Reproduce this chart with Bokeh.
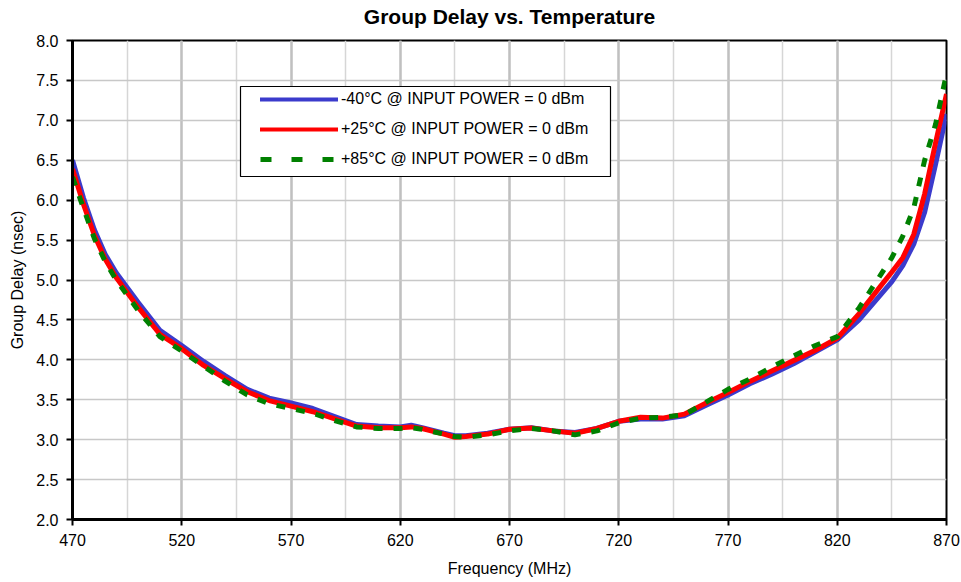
from bokeh.plotting import figure
from bokeh.models import (Range1d, FixedTicker, NumeralTickFormatter, Legend,
                          LegendItem, BoxAnnotation, LinearAxis)
from bokeh.embed import file_html
from bokeh.resources import INLINE

# ---------------- data ----------------
freq_mhz = [470, 475, 480, 485, 490, 500, 510, 520, 530, 540, 550, 560, 570, 580,
            590, 600, 610, 620, 625, 630, 640, 645, 650, 660, 670, 680, 690, 700,
            710, 720, 730, 740, 750, 760, 770, 780, 790, 800, 810, 820, 830, 840,
            845, 850, 855, 860, 865, 870]

delay_m40 = [6.50, 6.03, 5.63, 5.32, 5.09, 4.72, 4.37, 4.18, 3.98, 3.80, 3.63, 3.52,
             3.46, 3.39, 3.29, 3.19, 3.17, 3.16, 3.18, 3.15, 3.08, 3.05, 3.05, 3.08,
             3.13, 3.15, 3.11, 3.09, 3.14, 3.23, 3.26, 3.26, 3.30, 3.43, 3.56, 3.70,
             3.82, 3.95, 4.10, 4.25, 4.50, 4.82, 4.98, 5.18, 5.45, 5.85, 6.45, 7.08]

delay_p25 = [6.39, 5.95, 5.56, 5.26, 5.03, 4.66, 4.32, 4.14, 3.93, 3.76, 3.60, 3.49,
             3.42, 3.35, 3.26, 3.17, 3.15, 3.15, 3.16, 3.14, 3.07, 3.03, 3.04, 3.07,
             3.13, 3.145, 3.11, 3.08, 3.14, 3.23, 3.28, 3.27, 3.32, 3.46, 3.59, 3.73,
             3.86, 3.99, 4.12, 4.27, 4.58, 4.93, 5.10, 5.28, 5.57, 6.08, 6.72, 7.33]

delay_p85 = [6.29, 5.90, 5.52, 5.23, 5.00, 4.62, 4.29, 4.11, 3.92, 3.73, 3.56, 3.45,
             3.39, 3.33, 3.24, 3.16, 3.14, 3.14, 3.15, 3.13, 3.07, 3.04, 3.03, 3.06,
             3.11, 3.14, 3.11, 3.06, 3.11, 3.21, 3.27, 3.28, 3.31, 3.47, 3.63, 3.76,
             3.91, 4.05, 4.18, 4.29, 4.65, 5.07, 5.28, 5.55, 5.90, 6.50, 6.95, 7.58]

series_labels = ["-40°C @ INPUT POWER = 0 dBm",
                 "+25°C @ INPUT POWER = 0 dBm",
                 "+85°C @ INPUT POWER = 0 dBm"]
chart_title = "Group Delay vs. Temperature"

x_ticks = [470, 520, 570, 620, 670, 720, 770, 820, 870]
x_minor = [470, 495, 520, 545, 570, 595, 620, 645, 670, 695, 720, 745, 770, 795,
           820, 845, 870]
y_ticks = [2.0, 2.5, 3.0, 3.5, 4.0, 4.5, 5.0, 5.5, 6.0, 6.5, 7.0, 7.5, 8.0]

FONT = "Liberation Sans"
BLUE = "#3b3bcc"
RED = "#ff0000"
GREEN = "#008000"
NAN = float("nan")

# ---------------- figure ----------------
p = figure(width=961, height=582, output_backend="svg", toolbar_location=None,
           x_range=Range1d(470, 870), y_range=Range1d(2, 8),
           min_border_left=72, min_border_right=15, min_border_top=40,
           min_border_bottom=63, background_fill_color="white",
           border_fill_color="white", outline_line_color="black",
           outline_line_width=2)

xax = p.below[0]
yax = p.left[0]

# axes
for ax in (xax, yax):
    ax.axis_line_width = 3
    ax.axis_line_color = "black"
    ax.major_tick_out = 6
    ax.major_tick_in = 0
    ax.major_tick_line_width = 2
    ax.major_tick_line_color = "black"
    ax.minor_tick_line_color = None
    ax.major_label_text_font = FONT
    ax.major_label_text_font_size = "16px"
    ax.major_label_text_color = "black"
    ax.major_label_standoff = 8
    ax.axis_label_text_font = FONT
    ax.axis_label_text_font_size = "16px"
    ax.axis_label_text_font_style = "normal"
    ax.axis_label_text_color = "black"

xax.ticker = FixedTicker(ticks=x_ticks, minor_ticks=x_minor)
yax.ticker = FixedTicker(ticks=y_ticks)
yax.formatter = NumeralTickFormatter(format="0.0")
xax.axis_label = "Frequency (MHz)"
yax.axis_label = "Group Delay (nsec)"
xax.axis_label_standoff = 11
yax.axis_label_standoff = 7

# title carried by a bare axis above the frame (label centred over its bounds)
title_axis = LinearAxis(ticker=FixedTicker(ticks=[]), bounds=(484, 870),
                        axis_line_color=None, major_tick_line_color=None,
                        minor_tick_line_color=None, major_tick_out=0,
                        major_tick_in=0, major_label_standoff=0,
                        axis_label=chart_title, axis_label_standoff=13,
                        axis_label_text_font=FONT,
                        axis_label_text_font_size="21px",
                        axis_label_text_font_style="bold",
                        axis_label_text_color="black")
p.add_layout(title_axis, "above")

# grid
p.xgrid.ticker = FixedTicker(ticks=x_ticks, minor_ticks=x_minor)
p.xgrid.grid_line_color = "#c0c0c0"
p.xgrid.grid_line_width = 2.5
p.xgrid.minor_grid_line_color = "#d6d6d6"
p.xgrid.minor_grid_line_width = 1.5
p.ygrid.ticker = FixedTicker(ticks=y_ticks)
p.ygrid.grid_line_color = "#c8c8c8"
p.ygrid.grid_line_width = 1.5

# ---------------- series ----------------
p.line(freq_mhz, delay_m40, line_color=BLUE, line_width=5, line_join="round")
p.line(freq_mhz, delay_p25, line_color=RED, line_width=5, line_join="round")
p.line(freq_mhz, delay_p85, line_color=GREEN, line_width=5, line_dash="9 11")

# legend swatches (styled like the reference legend; they draw nothing in the plot)
sw1 = p.line([NAN], [NAN], line_color=BLUE, line_width=4, line_cap="round")
sw2 = p.line([NAN], [NAN], line_color=RED, line_width=4, line_cap="round")
sw3 = p.line([NAN], [NAN], line_color=GREEN, line_width=5, line_dash="11 20")

box = BoxAnnotation(left=240, right=610, top=86, bottom=176,
                    left_units="canvas", right_units="canvas",
                    top_units="canvas", bottom_units="canvas",
                    fill_color="white", fill_alpha=1.0,
                    line_color="black", line_width=1.2, line_alpha=1.0)
p.add_layout(box)

legend = Legend(items=[LegendItem(label=series_labels[0], renderers=[sw1]),
                       LegendItem(label=series_labels[1], renderers=[sw2]),
                       LegendItem(label=series_labels[2], renderers=[sw3])],
                location=(188, 350), padding=0, margin=0, spacing=10,
                glyph_width=78, glyph_height=20, label_height=20,
                label_standoff=3, label_text_font=FONT,
                label_text_font_size="16px", label_text_color="black",
                border_line_alpha=0, background_fill_alpha=0)
p.add_layout(legend)

open("out.html", "w").write(file_html(p, INLINE))
